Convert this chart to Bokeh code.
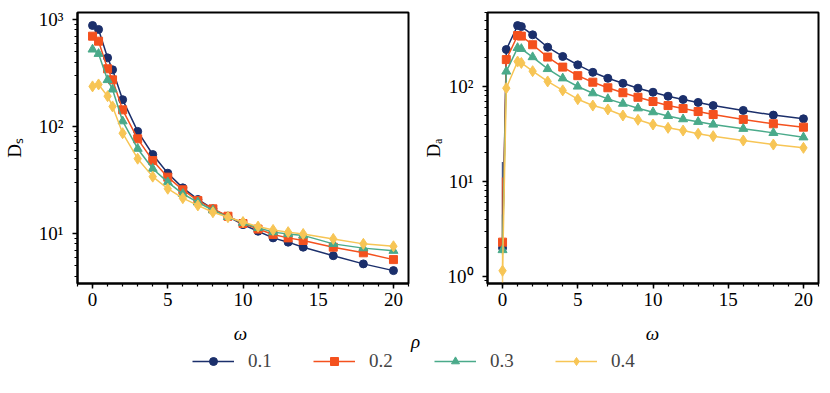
import numpy as np
from bokeh.plotting import figure
from bokeh.models import Range1d, FixedTicker, CustomJSTickFormatter, Legend, LegendItem, Label
from bokeh.layouts import row, column
from bokeh.embed import file_html
from bokeh.resources import INLINE

# ---------------- data ----------------
rho_labels = ["0.1", "0.2", "0.3", "0.4"]

omega_s = [0, 0.4, 1, 1.33, 2, 3, 4, 5, 6, 7, 8, 9, 10, 11, 12, 13, 14, 16, 18, 20]
Ds_01 = [879, 807, 438, 339, 178, 90, 54.7, 36.6, 26.7, 20.8, 17.0, 14.4, 12.1, 10.5, 9.1, 8.3, 7.45, 6.2, 5.2, 4.5]
Ds_02 = [698, 627, 346, 273, 143, 76.7, 48, 33.6, 25.6, 20.3, 17.0, 14.5, 12.4, 11.0, 9.8, 9.1, 8.6, 7.45, 6.6, 5.7]
Ds_03 = [525, 478, 272, 222, 112, 62, 40.3, 30.2, 23.5, 19.6, 16.5, 14.3, 12.6, 11.3, 10.3, 9.9, 9.6, 8.0, 7.3, 6.9]
Ds_04 = [237, 247, 192, 154, 86.5, 50, 34, 26.2, 21.4, 18.3, 15.8, 14.2, 12.8, 11.6, 10.8, 10.3, 9.9, 8.9, 8.0, 7.6]

omega_a = [0, 0.25, 1, 1.25, 2, 3, 4, 5, 6, 7, 8, 9, 10, 11, 12, 13, 14, 16, 18, 20]
Da_01 = [2.0, 245, 438, 427, 350, 259, 207, 169, 141, 122, 108, 96, 87, 79, 73, 68, 63, 56, 50, 45.7]
Da_02 = [2.3, 192, 344, 339, 275, 204, 160, 130, 111, 97, 86, 77, 69.5, 63, 58.6, 54.5, 50.7, 45, 40.5, 37.3]
Da_03 = [1.9, 144, 255, 249, 204, 153, 122, 100, 85, 74, 66, 59, 53.7, 49, 45.3, 42.5, 39.8, 35.9, 32.5, 29.2]
Da_04 = [1.15, 96, 183, 177, 145, 113, 91, 73.5, 63, 57.3, 49.5, 44.6, 39.8, 36.7, 34.4, 31.8, 30, 27, 24.5, 22.6]

# error bars at omega = 0 (right panel)
Da0_lo = [1.8, 2.0, 1.7, 0.5]
Da0_hi = [16.0, 11.0, 4.5, 3.0]

x_major = [0, 5, 10, 15, 20]
x_label = "\u03c9"
legend_title = "\u03c1"

# ---------------- style ----------------
colors = ["#1b2f6b", "#f4511e", "#4aaa8a", "#f7c555"]
markers = ["circle", "square", "triangle", "diamond"]
msizes = [8, 8, 9, 11]
FONT = "Liberation Serif"
FS = "19px"

sup_fmt = CustomJSTickFormatter(code="""
const sup = {'-':'\u207b','0':'\u2070','1':'\u00b9','2':'\u00b2','3':'\u00b3','4':'\u2074',
             '5':'\u2075','6':'\u2076','7':'\u2077','8':'\u2078','9':'\u2079'};
const e = Math.round(Math.log10(tick));
return '10' + String(e).split('').map(c => sup[c]).join('');
""")


def style(p, ylabel, ymaj, ymin, ylab_standoff):
    p.xaxis.ticker = FixedTicker(ticks=x_major, minor_ticks=list(range(-1, 22)))
    p.yaxis.ticker = FixedTicker(ticks=ymaj, minor_ticks=ymin)
    p.yaxis.formatter = sup_fmt
    p.xgrid.visible = False
    p.ygrid.visible = False
    p.outline_line_color = "black"
    p.outline_line_width = 2
    p.outline_line_alpha = 1
    for ax in (p.xaxis, p.yaxis):
        ax.axis_line_width = 2
        ax.axis_line_color = "black"
        ax.major_tick_line_width = 1.5
        ax.minor_tick_line_width = 1.2
        ax.major_tick_line_color = "black"
        ax.minor_tick_line_color = "black"
        ax.major_tick_out = 5
        ax.major_tick_in = 0
        ax.minor_tick_out = 3
        ax.minor_tick_in = 0
        ax.major_label_text_font = FONT
        ax.major_label_text_font_size = FS
        ax.major_label_text_color = "black"
        ax.axis_label_text_font = FONT
        ax.axis_label_text_font_size = FS
        ax.axis_label_text_color = "black"
        ax.axis_label_text_font_style = "normal"
    p.yaxis.axis_label = ylabel
    p.xaxis.major_label_standoff = 4
    p.yaxis.major_label_standoff = 9
    p.yaxis.axis_label_standoff = ylab_standoff


def add_series(p, x, ys):
    for y, c, m, s in zip(ys, colors, markers, msizes):
        p.line(x, y, line_color=c, line_width=1.5)
        p.scatter(x, y, marker=m, size=s, fill_color=c, line_color=c)


H = 315
BOT = 32
# left panel
p1 = figure(width=410, height=H, y_axis_type="log",
            x_range=Range1d(-1, 21), y_range=Range1d(3.41, 1162),
            toolbar_location=None, output_backend="svg",
            min_border_left=75, min_border_right=2, min_border_top=12,
            min_border_bottom=BOT)
ymin1 = [v * 10 ** k for k in range(0, 4) for v in range(2, 10)]
style(p1, "D\u209b", [10, 100, 1000], ymin1, 11)
add_series(p1, omega_s, [Ds_01, Ds_02, Ds_03, Ds_04])

# right panel
p2 = figure(width=420, height=H, y_axis_type="log",
            x_range=Range1d(-1, 21), y_range=Range1d(0.844, 601),
            toolbar_location=None, output_backend="svg",
            min_border_left=77, min_border_right=12, min_border_top=12,
            min_border_bottom=BOT)
ymin2 = [v * 10 ** k for k in range(-1, 3) for v in range(2, 10)]
style(p2, "D\u2090", [1, 10, 100], ymin2, 1)
for i, c in enumerate(colors):
    p2.segment(x0=[omega_a[0]], y0=[Da0_lo[i]], x1=[omega_a[0]], y1=[Da0_hi[i]],
               line_color=c, line_width=1.5, line_alpha=0.8)
add_series(p2, omega_a, [Da_01, Da_02, Da_03, Da_04])

# bottom strip: x-axis labels, legend title and legend
LH = 392 - H
leg = figure(width=830, height=LH, toolbar_location=None, output_backend="svg",
             x_range=Range1d(0, 1), y_range=Range1d(0, 1), min_border=0)
leg.axis.visible = False
leg.xgrid.visible = False
leg.ygrid.visible = False
leg.outline_line_color = None
for xc in (240, 652):
    leg.add_layout(Label(x=xc, y=59, x_units="screen", y_units="screen", text=x_label,
                         text_font=FONT, text_font_size=FS, text_font_style="italic",
                         text_align="center", text_baseline="alphabetic", text_color="black"))
leg.add_layout(Label(x=415, y=51, x_units="screen", y_units="screen", text=legend_title,
                     text_font=FONT, text_font_size=FS, text_font_style="italic",
                     text_align="center", text_baseline="alphabetic", text_color="black"))
items = []
for lab, c, m, s in zip(rho_labels, colors, markers, msizes):
    lr = leg.line([np.nan], [np.nan], line_color=c, line_width=1.5)
    sr = leg.scatter([np.nan], [np.nan], marker=m, fill_color=c, line_color=c)
    items.append(LegendItem(label=lab, renderers=[lr, sr]))
legend = Legend(items=items, orientation="horizontal", location=(192, 20),
                glyph_width=42, glyph_height=20, label_height=20,
                label_standoff=14, label_width=30, spacing=35,
                padding=0, margin=0, border_line_color=None,
                background_fill_alpha=0,
                label_text_font=FONT, label_text_font_size=FS)
leg.add_layout(legend, "center")

layout = column(row(p1, p2), leg)
open("out.html", "w").write(file_html(layout, INLINE))
